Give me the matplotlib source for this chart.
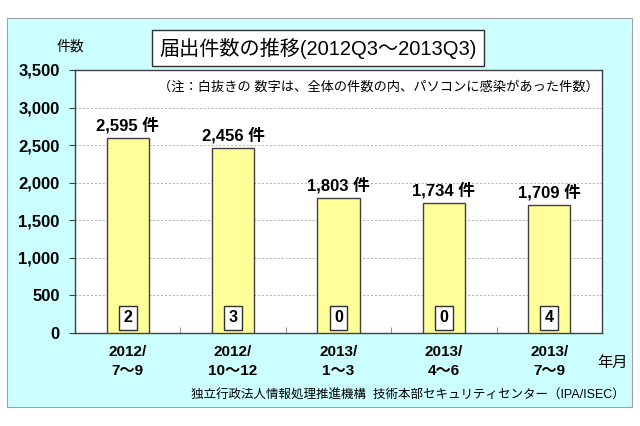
import numpy as np
import matplotlib
matplotlib.use('Agg')
import matplotlib.pyplot as plt
from matplotlib.patches import Rectangle
import matplotlib.transforms as mtransforms

plt.rcParams['font.family'] = ['Liberation Sans', 'Noto Sans CJK JP', 'DejaVu Sans']

# ── data ──────────────────────────────────────────────────────────────────────
periods = ['2012/\n7～9', '2012/\n10～12', '2013/\n1～3', '2013/\n4～6', '2013/\n7～9']
counts = [2595, 2456, 1803, 1734, 1709]
pc_infected = [2, 3, 0, 0, 4]
y_ticks = [0, 500, 1000, 1500, 2000, 2500, 3000, 3500]

fig = plt.figure(figsize=(6.4, 4.26), dpi=100)
fig.patch.set_facecolor('white')

# light cyan chart area (behind the axes)
fig.patches.append(Rectangle((7 / 640, 1 - 407 / 426), 625 / 640, 389 / 426,
                             transform=fig.transFigure, facecolor='#CCFFFF',
                             edgecolor='#A0A0A0', linewidth=0.8, zorder=-10))

ax = fig.add_axes([75 / 640, 1 - 333 / 426, 527 / 640, 263 / 426])
ax.set_facecolor('white')

x = np.arange(len(counts))
ax.bar(x, counts, width=0.4, color='#FFFF99', edgecolor='#404040',
       linewidth=1.0, zorder=3)

ax.set_xlim(-0.5, len(counts) - 0.5)
ax.set_ylim(0, 3500)
ax.set_yticks(y_ticks)
ax.set_yticklabels([f'{v:,}' for v in y_ticks], fontsize=12, fontweight='bold')
ax.set_xticks(x)
ax.set_xticklabels(periods, fontsize=11, fontweight='bold', linespacing=1.45)
ax.tick_params(axis='x', length=0, pad=9)
ax.tick_params(axis='y', length=4, pad=7, direction='out', color='#404040')
ax.set_xticks(np.arange(0.5, len(counts) - 0.5), minor=True)
ax.tick_params(axis='x', which='minor', length=4, direction='in', color='#808080')

for v in y_ticks[1:-1]:
    ax.axhline(v, color='#B0B0B0', linestyle=(0, (2, 2)), linewidth=0.7, zorder=1)

for s in ax.spines.values():
    s.set_color('#404040')
    s.set_linewidth(1.0)

# value labels above bars
for xi, c in zip(x, counts):
    ax.text(xi, c + 60, f'{c:,} 件', ha='center', va='bottom', fontsize=12,
            fontweight='bold', zorder=4)

# PC infection counts in small boxes
trans = mtransforms.blended_transform_factory(ax.transData, ax.transAxes)
for xi, n in zip(x, pc_infected):
    ax.text(xi, 0.058, str(n), transform=trans, ha='center', va='center',
            fontsize=11.5, fontweight='bold', zorder=5,
            bbox=dict(boxstyle='square,pad=0.28', facecolor='white',
                      edgecolor='#303030', linewidth=1.0))

# note inside plot
ax.text(0.576, 0.932, '（注：白抜きの 数字は、全体の件数の内、パソコンに感染があった件数）',
        transform=ax.transAxes, ha='center', va='center', fontsize=9.5)

# title box
fig.text(318 / 640, 1 - 48 / 426, '届出件数の推移(2012Q3～2013Q3)',
         ha='center', va='center', fontsize=14.5,
         bbox=dict(boxstyle='square,pad=0.35', facecolor='white',
                   edgecolor='#303030', linewidth=1.0))

fig.text(70 / 640, 1 - 47 / 426, '件数', ha='center', va='center', fontsize=10)
fig.text(612 / 640, 1 - 363 / 426, '年月', ha='center', va='center', fontsize=11)
fig.text(625 / 640, 1 - 396 / 426,
         '独立行政法人情報処理推進機構  技術本部セキュリティセンター（IPA/ISEC）',
         ha='right', va='center', fontsize=9)

plt.savefig('out.png', dpi=100)
plt.close()
